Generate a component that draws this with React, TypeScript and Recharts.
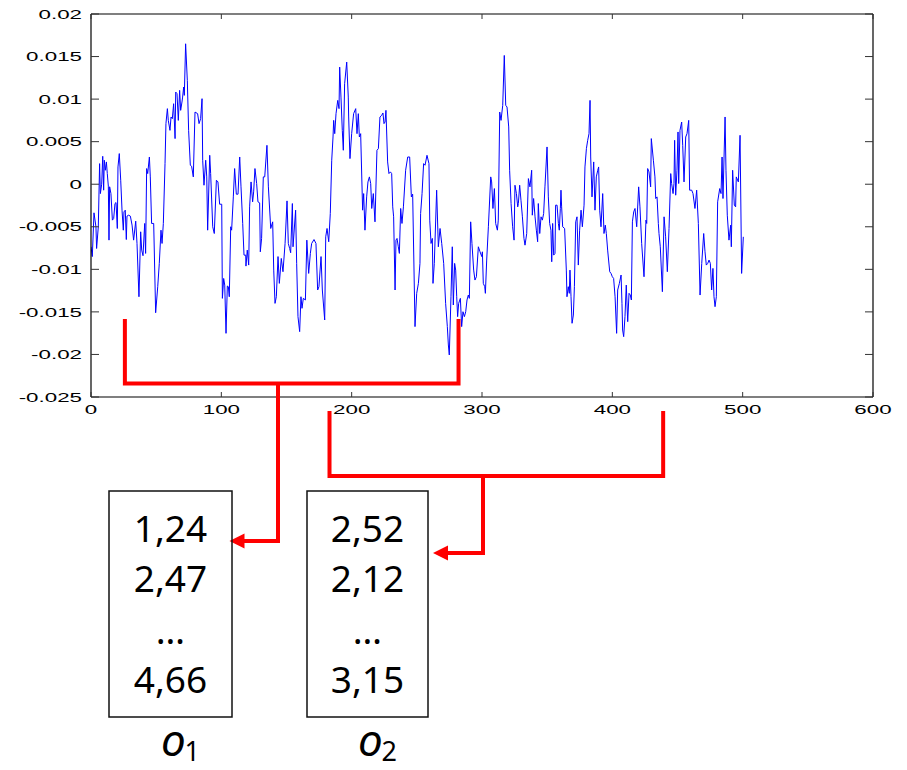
import React from 'react';
import { LineChart, Line, XAxis, YAxis } from 'recharts';

// Signal samples: sample index and amplitude at each vertex of the trace
const sampleIndex = [
  0, 1.0, 2.3, 3.8, 4.3, 5.6, 6.6, 7.2, 8.2, 9.0, 9.7, 10.2, 11.0, 11.8, 12.5, 13.3, 13.8, 14.3, 15.3, 16.4,
  17.4, 18.4, 19.2, 20.2, 20.7, 21.7, 22.8, 23.8, 24.8, 25.3, 26.3, 27.1, 27.6, 28.9, 30.2, 31.5, 32.7, 34.3, 35.3, 36.8,
  38.1, 38.9, 39.9, 41.2, 41.9, 42.7, 43.5, 44.8, 45.5, 46.5, 48.1, 49.6, 51.2, 52.4, 53.7, 54.5, 55.5, 56.8, 57.5, 58.6,
  59.3, 60.6, 61.4, 62.4, 63.4, 64.5, 65.0, 66.0, 67.0, 68.0, 68.8, 69.8, 70.3, 71.1, 71.6, 72.6, 73.9, 74.9, 76.2, 77.2,
  78.5, 79.8, 81.8, 82.9, 84.1, 85.2, 85.7, 86.7, 88.0, 88.8, 89.5, 91.1, 91.8, 93.4, 94.6, 96.2, 97.4, 98.7, 100.3, 100.8,
  101.8, 102.6, 103.6, 104.6, 105.4, 106.1, 107.2, 107.9, 109.2, 110.2, 111.5, 112.8, 114.1, 115.1, 116.4, 117.4, 118.7, 118.9, 119.9, 121.0,
  121.7, 122.8, 124.0, 124.8, 125.8, 127.1, 128.1, 129.4, 129.9, 130.9, 132.2, 133.3, 135.0, 136.1, 137.9, 139.4, 140.2, 141.2, 142.2, 143.5,
  144.5, 146.0, 147.3, 148.9, 150.4, 151.4, 152.4, 153.2, 154.5, 155.0, 157.0, 157.8, 158.8, 160.1, 161.1, 161.9, 162.9, 164.5, 165.6, 167.0,
  168.3, 169.3, 171.1, 172.6, 173.9, 174.9, 176.5, 177.5, 179.3, 180.1, 181.1, 182.4, 183.6, 184.7, 185.7, 186.2, 187.0, 188.0, 189.3, 190.3,
  190.8, 191.8, 192.8, 193.6, 194.6, 196.2, 197.4, 197.7, 198.7, 200.0, 201.5, 203.1, 204.1, 205.1, 205.9, 206.9, 208.4, 209.2, 210.2, 211.5,
  212.5, 213.6, 214.6, 215.4, 216.6, 217.9, 219.4, 220.5, 221.7, 223.0, 224.0, 224.8, 225.6, 226.3, 227.6, 228.6, 229.7, 230.7, 231.5, 232.2,
  233.3, 234.0, 234.8, 235.8, 236.6, 237.6, 238.6, 239.7, 241.4, 243.0, 244.5, 245.8, 246.8, 248.6, 249.9, 251.2, 252.4, 252.9, 254.0, 255.2,
  256.3, 257.8, 259.3, 259.9, 260.9, 261.9, 262.4, 263.4, 265.2, 266.5, 267.8, 269.1, 270.6, 272.1, 273.4, 274.2, 274.9, 276.2, 277.2, 278.0,
  279.0, 279.8, 280.6, 281.3, 282.1, 283.4, 284.4, 285.4, 286.5, 287.5, 288.5, 289.5, 290.3, 291.3, 292.3, 293.6, 294.6, 295.7, 297.2, 298.5,
  299.8, 300.3, 301.0, 302.1, 302.6, 303.6, 304.9, 306.7, 307.4, 308.4, 309.5, 310.5, 311.8, 312.5, 313.6, 314.6, 315.9, 317.1, 318.2, 319.2,
  320.5, 321.2, 322.3, 323.5, 324.6, 325.3, 326.4, 327.4, 327.9, 328.9, 329.9, 331.0, 332.2, 333.0, 334.3, 335.6, 336.8, 338.1, 338.6, 339.6,
  340.7, 341.7, 342.7, 343.2, 344.3, 345.3, 346.3, 347.3, 348.3, 349.9, 350.9, 351.9, 352.9, 353.5, 354.2, 355.0, 356.0, 356.5, 357.6, 358.6,
  359.3, 360.1, 360.6, 361.1, 361.9, 363.4, 364.7, 365.2, 366.2, 367.0, 367.5, 368.3, 369.1, 370.1, 370.9, 371.9, 372.9, 373.9, 374.9, 376.0,
  377.0, 378.3, 379.0, 380.1, 381.1, 382.1, 382.9, 383.4, 384.4, 385.7, 386.7, 387.7, 388.8, 389.5, 390.3, 391.3, 392.6, 393.6, 394.6, 395.4,
  396.4, 398.0, 399.0, 400.0, 401.0, 402.1, 403.3, 404.1, 405.4, 406.7, 407.4, 407.9, 408.7, 409.7, 410.7, 411.8, 412.8, 413.8, 414.6, 415.4,
  416.4, 417.4, 418.7, 420.2, 421.2, 422.5, 424.3, 425.8, 426.4, 427.1, 428.1, 429.4, 429.9, 431.5, 432.7, 433.3, 434.3, 435.3, 435.8, 436.8,
  438.4, 439.7, 440.9, 442.2, 443.5, 444.8, 445.5, 446.6, 447.3, 447.8, 448.6, 449.6, 450.4, 450.9, 451.9, 453.2, 454.0, 455.0, 456.3, 457.3,
  458.6, 459.3, 460.9, 461.9, 463.4, 464.7, 466.0, 467.3, 468.6, 470.1, 471.1, 472.1, 473.2, 474.2, 475.2, 476.2, 477.2, 478.0, 478.8, 479.8,
  480.8, 482.4, 483.4, 484.2, 484.9, 486.5, 487.2, 488.2, 489.5, 490.8, 491.3, 492.3, 493.6, 494.6, 495.1, 496.7, 498.0, 499.2, 500.5,
];

const amplitude = [
  -0.00735, -0.0085, -0.00336, -0.005, -0.00755, -0.005, 0.00242, -0.0011, 0, 0.00328, -0.0007, 0.00282, 0.00164, 0.00262, 0.00125, -0.00023, -0.00657, -0.0003, -0.0011, -0.00422,
  -0.00403, -0.00227, -0.00215, -0.0052, 0.00203, 0.0036, 0.00047, -0.00305, -0.0054, -0.00325, -0.00305, -0.0065, -0.00375, -0.00364, -0.00375, -0.0048, -0.00657, -0.00434, -0.00696, -0.01322,
  -0.00559, -0.00774, -0.0084, -0.00461, -0.00813, 0.00184, 0.00125, 0.0032, 0.00086, -0.00461, -0.00461, -0.0151, -0.01204, -0.0093, -0.0054, -0.00696, -0.00461, 0.00242, 0.00712, 0.00888,
  0.0075, 0.00633, 0.0079, 0.0077, 0.00946, 0.00536, 0.01083, 0.01064, 0.0075, 0.01103, 0.00868, 0.00966, 0.01024, 0.01142, 0.01044, 0.0165, 0.0122, 0.00633, 0.00223, 0.00211,
  0.00086, 0.00848, 0.00829, 0.00712, 0.0077, 0.01005, 0.00282, -0.00012, 0.00282, 0.00086, -0.0054, 0.0034, 0.00125, -0.005, -0.00579, 0.00047, 0.00027, -0.00235, -0.00235, -0.01341,
  -0.01107, -0.01185, -0.01752, -0.01196, -0.01204, -0.01322, -0.005, -0.0054, -0.00149, 0.00184, -0.00117, -0.00117, 0.0032, -0.00031, -0.00461, -0.00833, -0.00833, -0.00962, -0.00774, -0.0095,
  -0.00266, 0.00027, -0.00207, -0.0009, 0.00184, 0.00008, -0.00207, -0.00219, -0.00794, -0.00637, 0.00086, 0.00086, 0.00457, -0.00031, -0.0052, -0.00442, -0.01009, -0.014, -0.01322, -0.0085,
  -0.01165, -0.00872, -0.01028, -0.00696, -0.00196, -0.00696, -0.00755, -0.00805, -0.00227, -0.00735, -0.00305, -0.0093, -0.01556, -0.01732, -0.01322, -0.01458, -0.01341, -0.0136, -0.00657, -0.01048,
  -0.00813, -0.00696, -0.0065, -0.00696, -0.01243, -0.01204, -0.0085, -0.01243, -0.01595, -0.00618, -0.0052, -0.00676, -0.00344, 0.00282, 0.00555, 0.0075, 0.00594, 0.00829, 0.00985, 0.00888,
  0.01376, 0.01024, 0.00633, 0.00399, 0.01181, 0.01435, 0.01024, 0.0079, 0.00301, 0.00594, 0.00829, 0.00888, 0.00594, 0.00829, 0.00555, 0.00594, -0.00305, -0.0011, -0.0054, -0.00149,
  0.00027, 0.00086, 0.00008, -0.00285, -0.0011, -0.00442, 0.00399, 0.00418, 0.0079, 0.00809, 0.00837, 0.00712, 0.00731, 0.00868, 0.00262, 0.00125, 0.00145, 0.00125, -0.00266, -0.00383,
  -0.01243, -0.00657, -0.00637, -0.00735, -0.00813, -0.00285, -0.00461, -0.00266, 0.00164, 0.0032, 0.0032, -0.00149, -0.00117, -0.01673, -0.01282, -0.01165, -0.0093, -0.00344, -0.0011, 0.00242,
  0.00223, 0.0034, 0.00242, -0.00422, -0.00696, -0.00637, -0.01165, -0.0093, -0.0007, -0.00735, -0.0052, -0.00696, -0.0093, -0.014, -0.01673, -0.01889, -0.02006, -0.01322, -0.00735, -0.01419,
  -0.0093, -0.01009, -0.01322, -0.01556, -0.014, -0.01341, -0.01673, -0.01498, -0.01556, -0.01498, -0.0136, -0.01302, -0.01341, -0.00442, -0.00696, -0.01009, -0.01126, -0.01087, -0.00735, -0.00794,
  -0.0085, -0.00794, -0.01165, -0.01204, -0.01282, -0.00891, -0.005, 0.00086, 0.00027, -0.00285, -0.00051, -0.00461, -0.0054, -0.00422, 0.00848, 0.0075, 0.00927, 0.01513, 0.00927, 0.00907,
  0.00673, 0.00164, -0.00227, -0.005, -0.00657, -0.00012, -0.0011, -0.00266, -0.00227, -0.00012, -0.00188, -0.00383, -0.00637, -0.00716, -0.00579, 0.00066, -0.00031, 0.00164, -0.00364, -0.00168,
  -0.00383, -0.0054, -0.00676, -0.00227, -0.00579, -0.00383, -0.00422, -0.00344, -0.00031, 0.00438, -0.00149, -0.00461, -0.0054, -0.00911, -0.00461, -0.00833, -0.00813, -0.00246, -0.00246, -0.00461,
  -0.0054, -0.00285, -0.0007, -0.00266, -0.005, -0.0052, -0.01009, -0.01322, -0.01204, -0.01282, -0.01009, -0.01322, -0.01634, -0.01537, -0.01204, -0.00442, -0.00383, -0.0095, -0.0054, -0.00305,
  -0.005, -0.00246, 0.00203, 0.00418, 0.00516, 0.00594, 0.00985, 0.0032, -0.00149, 0.00262, -0.00305, 0.00086, 0.00164, 0.00203, -0.00305, -0.005, -0.0011, -0.00579, -0.00481, -0.00579,
  -0.00774, -0.01028, -0.01048, -0.01087, -0.01107, -0.01322, -0.01752, -0.01243, -0.01165, -0.01067, -0.014, -0.01713, -0.01791, -0.01556, -0.01185, -0.01615, -0.01282, -0.01302, -0.0136, -0.00442,
  -0.00325, -0.00285, -0.005, -0.00031, -0.00266, -0.00696, -0.01087, -0.00422, -0.00461, 0.00184, 0.00145, -0.00031, 0.00536, 0.00282, 0.00086, -0.00168, -0.00149, -0.00461, -0.00579, -0.00735,
  -0.01263, -0.00383, -0.00618, -0.01028, -0.0052, 0.00125, 0.00008, -0.0011, 0.00008, 0.00516, -0.00129, 0.00164, 0.00614, 0.00008, 0.00633, 0.00731, 0.00457, 0.00027, 0.00555, 0.00594,
  0.0075, -0.0007, -0.0007, -0.0011, -0.00285, -0.0007, -0.00461, -0.01302, -0.0093, -0.00579, -0.00794, -0.0095, -0.0093, -0.00891, -0.0093, -0.01243, -0.00989, -0.01322, -0.01439, -0.01322,
  -0.00207, -0.00051, -0.0011, 0.0032, -0.00168, 0.0079, 0.00164, -0.00364, -0.00657, -0.00481, -0.00735, 0.00164, -0.00246, -0.00266, 0.00086, 0.00027, 0.00575, -0.01048, -0.00618,
];

const xTicks = [0, 100, 200, 300, 400, 500, 600];
const yTicks = [0.02, 0.015, 0.01, 0.005, 0, -0.005, -0.01, -0.015, -0.02, -0.025];

// Analysis windows (start sample, length) and the feature vectors they produce
const windowStarts = [26, 183];
const windowLength = 256;
const featureVectors = [
  ['1,24', '2,47', '…', '4,66'],
  ['2,52', '2,12', '…', '3,15'],
];
const featureIndex = ['1', '2'];

const series = sampleIndex.map((x, i) => ({ x, y: amplitude[i] }));

// Figure geometry
const W = 907;
const H = 770;
const PLOT_LEFT = 91;
const PLOT_RIGHT = 873;
const PLOT_TOP = 14;
const PLOT_BOTTOM = 397;
const X_MAX = 600;
const xPx = (v: number) => PLOT_LEFT + (v / X_MAX) * (PLOT_RIGHT - PLOT_LEFT);

const AXIS_FONT = '"Liberation Sans", Arial, sans-serif';
const STRETCH = 1.72;
const TICK_COLOR = '#333';

const fmt = (v: number) => String(v);

const BottomTick = (props: any) => {
  const { x, y, payload } = props;
  return (
    <g>
      <line x1={x} y1={y} x2={x} y2={y - 5} stroke={TICK_COLOR} strokeWidth={1} />
      <text
        transform={`translate(${x} ${y + 16.5}) scale(${STRETCH} 1)`}
        textAnchor="middle"
        fontFamily={AXIS_FONT}
        fontSize={13}
        fill="#000"
      >
        {fmt(payload.value)}
      </text>
    </g>
  );
};

const LeftTick = (props: any) => {
  const { x, y, payload } = props;
  return (
    <g>
      <line x1={x} y1={y} x2={x + 8} y2={y} stroke={TICK_COLOR} strokeWidth={1} />
      <text
        transform={`translate(${x - 9} ${y + 4.7}) scale(${STRETCH} 1)`}
        textAnchor="end"
        fontFamily={AXIS_FONT}
        fontSize={13}
        fill="#000"
      >
        {fmt(payload.value)}
      </text>
    </g>
  );
};

const TopTick = (props: any) => {
  const { x, y } = props;
  return <line x1={x} y1={y} x2={x} y2={y + 5} stroke={TICK_COLOR} strokeWidth={1} />;
};

const RightTick = (props: any) => {
  const { x, y } = props;
  return <line x1={x} y1={y} x2={x - 8} y2={y} stroke={TICK_COLOR} strokeWidth={1} />;
};

// Bracket feet/bar heights and the connector leading to each feature box
const brackets = [
  { top: 319, bar: 383.5, stemX: 278, arrowY: 541, tipX: 229.5 },
  { top: 411, bar: 476, stemX: 483, arrowY: 553, tipX: 433 },
];
const boxes = [
  { left: 109, right: 232 },
  { left: 307, right: 428 },
];
const BOX_TOP = 491;
const BOX_BOTTOM = 717;
const ROW_BASELINES = [542, 592, 644, 693];
const RED = '#ff0000';

const Annotations = () => (
  <svg
    width={W}
    height={H}
    style={{ position: 'absolute', left: 0, top: 0, pointerEvents: 'none' }}
  >
    {windowStarts.map((s, i) => {
      const b = brackets[i];
      const x0 = xPx(s);
      const x1 = xPx(s + windowLength);
      return (
        <g key={`br${i}`}>
          <polyline
            points={`${x0},${b.top} ${x0},${b.bar} ${x1},${b.bar} ${x1},${b.top}`}
            fill="none"
            stroke={RED}
            strokeWidth={4}
            strokeLinejoin="miter"
          />
          <polyline
            points={`${b.stemX},${b.bar} ${b.stemX},${b.arrowY} ${b.tipX + 13},${b.arrowY}`}
            fill="none"
            stroke={RED}
            strokeWidth={4}
            strokeLinejoin="miter"
          />
          <polygon
            points={`${b.tipX},${b.arrowY} ${b.tipX + 15},${b.arrowY - 7.5} ${b.tipX + 15},${b.arrowY + 7.5}`}
            fill={RED}
          />
        </g>
      );
    })}
    {featureVectors.map((rows, i) => {
      const bx = boxes[i];
      const cx = (bx.left + bx.right) / 2;
      return (
        <g key={`box${i}`}>
          <rect
            x={bx.left}
            y={BOX_TOP}
            width={bx.right - bx.left}
            height={BOX_BOTTOM - BOX_TOP}
            fill="none"
            stroke="#111"
            strokeWidth={1.5}
          />
          {rows.map((r, j) => (
            <text
              key={j}
              x={cx}
              y={ROW_BASELINES[j]}
              textAnchor="middle"
              fontFamily='"Noto Sans", "Open Sans", sans-serif'
              fontSize={37}
              fill="#000"
            >
              {r}
            </text>
          ))}
          <text
            x={cx + 3}
            y={756}
            textAnchor="middle"
            fontFamily='"Noto Sans", "DejaVu Sans", sans-serif'
            fontStyle="italic"
            fontSize={44}
            fill="#000"
          >
            o
          </text>
          <text
            x={cx + 14}
            y={761}
            textAnchor="start"
            fontFamily='"Noto Sans", "DejaVu Sans", sans-serif'
            fontSize={27}
            fill="#000"
          >
            {featureIndex[i]}
          </text>
        </g>
      );
    })}
  </svg>
);

export default function App() {
  return (
    <div style={{ position: 'absolute', left: 0, top: 0, width: W, height: H, background: '#fff' }}>
      <LineChart
        width={W}
        height={H}
        data={series}
        margin={{ top: PLOT_TOP - 10, right: W - PLOT_RIGHT - 10, bottom: H - PLOT_BOTTOM - 30, left: PLOT_LEFT - 60 }}
      >
        <XAxis
          xAxisId="b"
          dataKey="x"
          type="number"
          domain={[0, X_MAX]}
          ticks={xTicks}
          interval={0}
          height={30}
          tickSize={0}
          tickMargin={0}
          tickLine={false}
          axisLine={{ stroke: '#000', strokeWidth: 1.2 }}
          tick={<BottomTick />}
          allowDataOverflow
        />
        <XAxis
          xAxisId="t"
          orientation="top"
          dataKey="x"
          type="number"
          domain={[0, X_MAX]}
          ticks={xTicks}
          interval={0}
          height={10}
          tickSize={0}
          tickMargin={0}
          tickLine={false}
          axisLine={{ stroke: '#000', strokeWidth: 1.2 }}
          tick={<TopTick />}
          allowDataOverflow
        />
        <YAxis
          yAxisId="l"
          type="number"
          domain={[-0.025, 0.02]}
          ticks={yTicks}
          interval={0}
          width={60}
          tickSize={0}
          tickMargin={0}
          tickLine={false}
          axisLine={{ stroke: '#000', strokeWidth: 1.2 }}
          tick={<LeftTick />}
          allowDataOverflow
        />
        <YAxis
          yAxisId="r"
          orientation="right"
          type="number"
          domain={[-0.025, 0.02]}
          ticks={yTicks}
          interval={0}
          width={10}
          tickSize={0}
          tickMargin={0}
          tickLine={false}
          axisLine={{ stroke: '#000', strokeWidth: 1.2 }}
          tick={<RightTick />}
          allowDataOverflow
        />
        <Line
          xAxisId="b"
          yAxisId="l"
          type="linear"
          dataKey="y"
          stroke="#0000ff"
          strokeWidth={1}
          dot={false}
          activeDot={false}
          isAnimationActive={false}
        />
      </LineChart>
      <Annotations />
    </div>
  );
}
